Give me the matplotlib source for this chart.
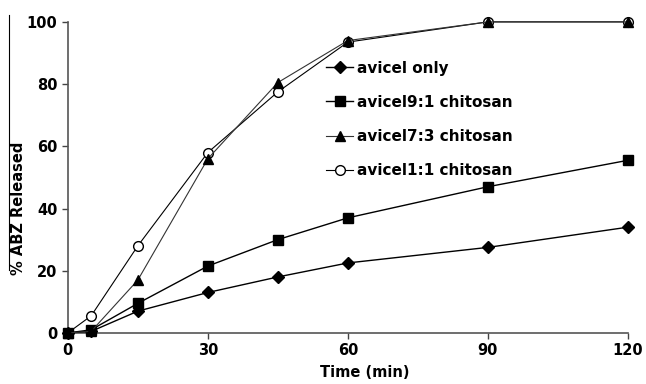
import matplotlib
matplotlib.use("Agg")
import matplotlib.pyplot as plt

plt.rcParams['font.family'] = ['DejaVu Sans']
plt.rcParams['font.weight'] = 'bold'

# tempo (min)
tempo = [0, 5, 15, 30, 45, 60, 90, 120]

# % ABZ liberado
avicel_only = [0, 0.5, 7, 13, 18, 22.5, 27.5, 34]
avicel_91 = [0, 1, 9.5, 21.5, 30, 37, 47, 55.5]
avicel_73 = [0, 0.5, 17, 56, 80.5, 94, 100, 100]
avicel_11 = [0, 5.5, 28, 58, 77.5, 93.5, 100, 100]

fig = plt.figure(figsize=(6.46, 3.84), dpi=100)
ax = fig.add_axes([0.105, 0.133, 0.867, 0.81])

ax.plot(tempo, avicel_only, color='black', lw=1, marker='D', ms=6,
        label='avicel only', clip_on=False, zorder=4)
ax.plot(tempo, avicel_91, color='black', lw=1, marker='s', ms=7,
        label='avicel9:1 chitosan', clip_on=False, zorder=4)
ax.plot(tempo, avicel_73, color='#333333', lw=0.8, marker='^', ms=7,
        mfc='black', mec='black', label='avicel7:3 chitosan', clip_on=False, zorder=4)
ax.plot(tempo, avicel_11, color='black', lw=0.8, marker='o', ms=7,
        mfc='white', mec='black', label='avicel1:1 chitosan', clip_on=False, zorder=3)

ax.set_xlim(0, 120)
ax.set_ylim(0, 100)
ax.set_xticks([0, 30, 60, 90, 120])
ax.set_yticks([0, 20, 40, 60, 80, 100])
ax.tick_params(labelsize=10.5, width=1, length=4, colors='#444444', labelcolor='black')
for s in ['top', 'right']:
    ax.spines[s].set_visible(False)
for s in ['left', 'bottom']:
    ax.spines[s].set_color('#555555')
    ax.spines[s].set_linewidth(1.2)

ax.set_xlabel("Time (min)", fontsize=10.5, fontweight='bold')
ax.xaxis.set_label_coords(0.53, -0.102)
ax.set_ylabel("% ABZ Released", fontsize=10.5, fontweight='bold')
ax.yaxis.set_label_coords(-0.075, 0.4)

ax.legend(loc='upper left', bbox_to_anchor=(0.45, 0.895), frameon=False,
          fontsize=11, handlelength=1.8, handletextpad=0.25, labelspacing=1.25,
          borderaxespad=0)

# linha vertical ao lado do rótulo do eixo y
fig.add_artist(plt.Line2D([0.014, 0.014], [0.297, 0.96], color='black', lw=0.8))

fig.savefig("out.png", dpi=100)
